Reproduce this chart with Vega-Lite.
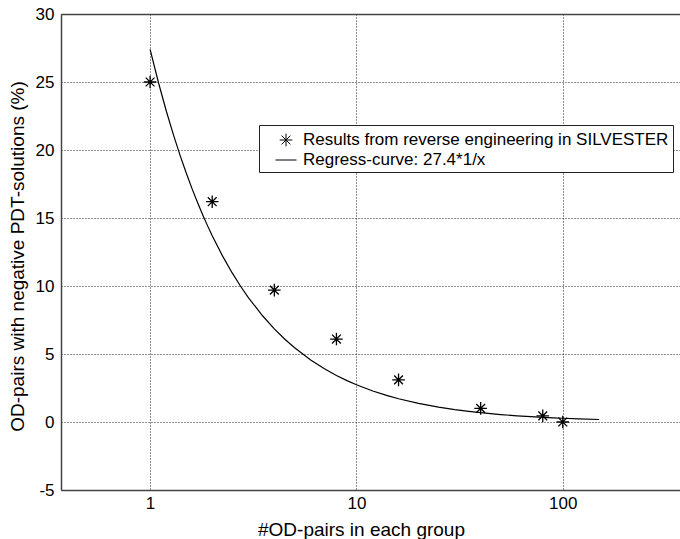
{
  "$schema": "https://vega.github.io/schema/vega-lite/v6.json",
  "width": 619,
  "height": 476,
  "autosize": {"type": "none"},
  "padding": {"left": 61, "top": 14, "right": 0, "bottom": 49},
  "background": "white",
  "config": {
    "view": {"stroke": null},
    "font": "Liberation Sans",
    "axis": {
      "labelFont": "Liberation Sans",
      "labelFontSize": 17,
      "labelColor": "black",
      "titleFont": "Liberation Sans",
      "titleFontSize": 19,
      "titleFontWeight": "normal",
      "titleColor": "black",
      "domainColor": "#444",
      "domainWidth": 1.5,
      "gridColor": "#222",
      "gridDash": [1, 2],
      "gridOpacity": 1,
      "gridWidth": 1,
      "ticks": false
    },
    "legend": {
      "orient": "none",
      "legendX": 198,
      "legendY": 111,
      "labelFont": "Liberation Sans",
      "labelFontSize": 17,
      "labelColor": "black",
      "labelLimit": 0,
      "symbolSize": 441,
      "symbolStrokeWidth": 1,
      "symbolStrokeColor": "black",
      "strokeColor": "#222",
      "fillColor": "white",
      "padding": 4,
      "rowPadding": 0,
      "symbolOffset": 12,
      "labelOffset": 6
    }
  },
  "datasets": {
    "points": [
      {"x": 1, "y": 25.0, "series": "Results from reverse engineering in SILVESTER"},
      {"x": 2, "y": 16.2, "series": "Results from reverse engineering in SILVESTER"},
      {"x": 4, "y": 9.7, "series": "Results from reverse engineering in SILVESTER"},
      {"x": 8, "y": 6.1, "series": "Results from reverse engineering in SILVESTER"},
      {"x": 16, "y": 3.1, "series": "Results from reverse engineering in SILVESTER"},
      {"x": 40, "y": 1.0, "series": "Results from reverse engineering in SILVESTER"},
      {"x": 80, "y": 0.45, "series": "Results from reverse engineering in SILVESTER"},
      {"x": 100, "y": 0.0, "series": "Results from reverse engineering in SILVESTER"}
    ],
    "curve": [
      {"x": 1, "y": 27.4}, {"x": 1.1, "y": 24.909}, {"x": 1.2, "y": 22.833},
      {"x": 1.3, "y": 21.077}, {"x": 1.4, "y": 19.571}, {"x": 1.5, "y": 18.267},
      {"x": 1.6, "y": 17.125}, {"x": 1.7, "y": 16.118}, {"x": 1.8, "y": 15.222},
      {"x": 1.9, "y": 14.421}, {"x": 2, "y": 13.7}, {"x": 2.25, "y": 12.178},
      {"x": 2.5, "y": 10.96}, {"x": 2.75, "y": 9.964}, {"x": 3, "y": 9.133},
      {"x": 3.5, "y": 7.829}, {"x": 4, "y": 6.85}, {"x": 4.5, "y": 6.089},
      {"x": 5, "y": 5.48}, {"x": 6, "y": 4.567}, {"x": 7, "y": 3.914},
      {"x": 8, "y": 3.425}, {"x": 9, "y": 3.044}, {"x": 10, "y": 2.74},
      {"x": 12, "y": 2.283}, {"x": 14, "y": 1.957}, {"x": 16, "y": 1.7125},
      {"x": 20, "y": 1.37}, {"x": 25, "y": 1.096}, {"x": 30, "y": 0.913},
      {"x": 35, "y": 0.783}, {"x": 40, "y": 0.685}, {"x": 50, "y": 0.548},
      {"x": 60, "y": 0.457}, {"x": 70, "y": 0.391}, {"x": 80, "y": 0.3425},
      {"x": 90, "y": 0.304}, {"x": 100, "y": 0.274}, {"x": 120, "y": 0.228},
      {"x": 150, "y": 0.183}
    ]
  },
  "resolve": {"axis": {"x": "independent"}},
  "layer": [
    {
      "data": {"name": "curve"},
      "mark": {"type": "line", "color": "black", "strokeWidth": 1.2},
      "encoding": {
        "x": {
          "field": "x", "type": "quantitative",
          "scale": {"type": "log", "domain": [0.37, 370], "nice": false},
          "axis": {"orient": "top", "labels": false, "grid": false, "title": null, "ticks": false, "domain": true}
        },
        "y": {
          "field": "y", "type": "quantitative",
          "scale": {"domain": [-5, 30], "nice": false, "zero": false}
        }
      }
    },
    {
      "data": {"name": "points"},
      "mark": {"type": "point", "filled": false, "color": "black", "size": 441, "strokeWidth": 1.3, "opacity": 1},
      "encoding": {
        "x": {
          "field": "x", "type": "quantitative",
          "scale": {"type": "log", "domain": [0.37, 370], "nice": false},
          "axis": {
            "orient": "bottom",
            "grid": true,
            "values": [1, 10, 100],
            "format": "d",
            "labelPadding": 5,
            "title": "#OD-pairs in each group",
            "titleX": 300,
            "titleY": 30,
            "titleBaseline": "top"
          }
        },
        "y": {
          "field": "y", "type": "quantitative",
          "scale": {"domain": [-5, 30], "nice": false, "zero": false},
          "axis": {
            "grid": true,
            "values": [-5, 0, 5, 10, 15, 20, 25, 30],
            "labelExpr": "datum.value < 0 ? '-' + abs(datum.value) : datum.label",
            "labelPadding": 7,
            "title": "OD-pairs with negative PDT-solutions (%)",
            "titleX": -34,
            "titleY": 242,
            "titleBaseline": "bottom"
          }
        },
        "shape": {
          "field": "series", "type": "nominal",
          "scale": {
            "domain": ["Results from reverse engineering in SILVESTER", "Regress-curve: 27.4*1/x"],
            "range": ["M-0.6,0L0.6,0M0,-0.6L0,0.6M-0.42,-0.42L0.42,0.42M-0.42,0.42L0.42,-0.42", "stroke"]
          },
          "legend": {"title": null}
        }
      }
    }
  ]
}
